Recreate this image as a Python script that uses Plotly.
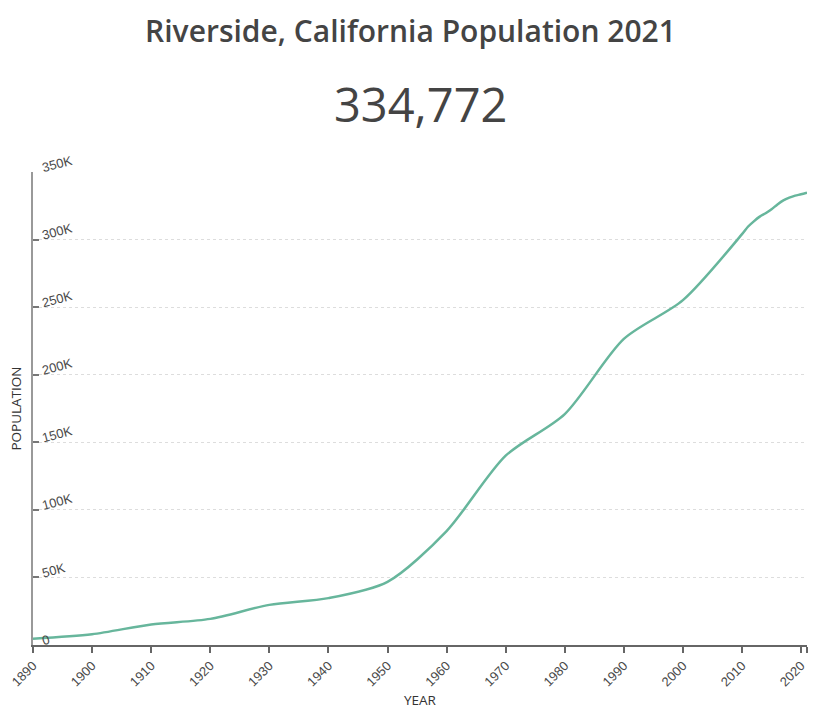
import plotly.graph_objects as go

years = [1890, 1900, 1910, 1920, 1930, 1940, 1950, 1960, 1970, 1980, 1990, 2000,
         2010, 2011, 2012, 2013, 2014, 2015, 2016, 2017, 2018, 2019, 2020, 2021]
population = [4683, 7973, 15212, 19341, 29696, 34696, 46764, 84332, 140089, 170876, 226505, 255166,
              304000, 309500, 313500, 317000, 319500, 322500, 326000, 329000, 331000, 332500, 333500, 334772]

x_tickvals = [1890, 1900, 1910, 1920, 1930, 1940, 1950, 1960, 1970, 1980, 1990, 2000, 2010, 2020, 2021]
x_ticktext = ["1890", "1900", "1910", "1920", "1930", "1940", "1950", "1960", "1970", "1980",
              "1990", "2000", "2010", "2020", ""]
y_tickvals = [0, 50000, 100000, 150000, 200000, 250000, 300000, 350000]
y_ticktext = ["0", "50K", "100K", "150K", "200K", "250K", "300K", "350K"]

title_text = "Riverside, California Population 2021"
headline_value = "334,772"

H = 709
T, B = 172, 64
plot_h = H - T - B

fig = go.Figure()
fig.add_trace(go.Scatter(
    x=years, y=population, mode="lines",
    line=dict(color="#67b69c", width=2.5, shape="spline", smoothing=0.8),
    hoverinfo="x+y", showlegend=False,
))

fig.update_layout(
    width=821, height=H,
    margin=dict(l=33, r=14, t=T, b=B, pad=0),
    paper_bgcolor="white", plot_bgcolor="white",
    title=dict(text=title_text, x=0.5, xanchor="center", y=1 - 31 / H, yanchor="middle",
               font=dict(family="Open Sans", size=30, color="#444444", weight=600)),
    annotations=[dict(text=headline_value, x=0.5, xref="paper", xanchor="center",
                      y=(H - B - 104) / plot_h, yref="paper", yanchor="middle", showarrow=False,
                      font=dict(family="Open Sans", size=47, color="#444444"))],
    xaxis=dict(
        range=[1890, 2021], tickmode="array", tickvals=x_tickvals, ticktext=x_ticktext,
        tickangle=-45, ticks="outside", ticklen=6, tickwidth=2, tickcolor="#666666",
        showline=True, linecolor="#666666", linewidth=2, showgrid=False, zeroline=False,
        automargin=False, ticklabeloverflow="allow",
        tickfont=dict(family="Liberation Sans", size=13, color="#4a4a4a"),
        title=dict(text="YEAR", font=dict(family="Open Sans", size=13.5, color="#333333"), standoff=13),
    ),
    yaxis=dict(
        range=[0, 350000], tickmode="array", tickvals=y_tickvals, ticktext=y_ticktext,
        ticks="inside", ticklen=6, tickwidth=2, tickcolor="#777777",
        ticklabelposition="inside top", tickangle=-15,
        ticklabelstandoff=5, ticklabelshift=6,
        automargin=False, ticklabeloverflow="allow",
        showline=True, linecolor="#999999", linewidth=2,
        showgrid=True, gridcolor="#dddddd", griddash="dot", gridwidth=1, zeroline=False,
        tickfont=dict(family="Liberation Sans", size=13, color="#4a4a4a"),
        title=dict(text="POPULATION", font=dict(family="Open Sans", size=13.5, color="#333333"), standoff=16),
    ),
)

fig.write_html("out.html")
